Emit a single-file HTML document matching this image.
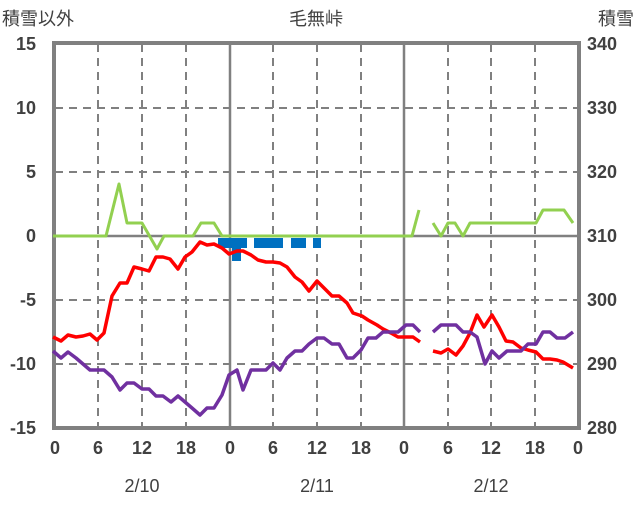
<!DOCTYPE html>
<html><head><meta charset="utf-8"><style>
body{margin:0;background:#fff}
svg text{font-family:"Liberation Sans","Noto Sans CJK JP",sans-serif;fill:#404040}
</style></head><body>
<svg width="636" height="501" xmlns="http://www.w3.org/2000/svg">
<rect width="636" height="501" fill="#fff"/>
<g stroke="#808080" stroke-width="2" stroke-dasharray="8,6" fill="none">
<line x1="55" y1="44" x2="578" y2="44"/><line x1="55" y1="108" x2="578" y2="108"/><line x1="55" y1="172" x2="578" y2="172"/>
<line x1="55" y1="300" x2="578" y2="300"/><line x1="55" y1="364" x2="578" y2="364"/>
<line x1="98" y1="44" x2="98" y2="427"/><line x1="142" y1="44" x2="142" y2="427"/><line x1="186" y1="44" x2="186" y2="427"/>
<line x1="273" y1="44" x2="273" y2="427"/><line x1="317" y1="44" x2="317" y2="427"/><line x1="361" y1="44" x2="361" y2="427"/>
<line x1="448" y1="44" x2="448" y2="427"/><line x1="491" y1="44" x2="491" y2="427"/><line x1="535" y1="44" x2="535" y2="427"/>
</g>
<g stroke="#808080" stroke-width="2.5"><line x1="55" y1="236" x2="578" y2="236"/><line x1="230" y1="44" x2="230" y2="427"/><line x1="404" y1="44" x2="404" y2="427"/></g>
<rect x="54" y="43" width="525" height="385" fill="none" stroke="#808080" stroke-width="4"/>
<g fill="#0070C0">
<rect x="218" y="238" width="29" height="10"/><rect x="254" y="238" width="29" height="10"/><rect x="291" y="238" width="15" height="10"/><rect x="313" y="238" width="8" height="10"/><rect x="232" y="248" width="9" height="13"/>
</g>
<g fill="none" stroke-width="3.5" stroke-linejoin="round">
<polyline stroke="#92D050" stroke-width="3" points="53,236 106,236 119,184 127,223 142,223 157,249 164,236 193,236 201,223 214,223 222,236 412,236 419,210"/>
<polyline stroke="#92D050" stroke-width="3" points="433,223 441,236 448,223 455,223 463,236 470,223 536,223 543,210 564,210 573,223"/>
<polyline stroke="#FF0000" points="53,337 61,341 68,335 76,337 83,336 90,334 97,340 104,333 112,296 120,283 127,283 134,267 142,269 149,271 156,257 163,257 170,259 178,269 185,257 192,252 200,242 207,245 214,244 222,248 229,254 237,251 243,251 251,255 258,260 266,262 273,262 280,263 287,267 295,277 302,282 309,291 317,281 324,288 332,296 339,296 347,303 353,313 362,316 368,320 377,325 383,329 391,333 398,337 406,337 413,337 420,342"/>
<polyline stroke="#FF0000" points="433,351 441,353 448,349 456,355 463,346 470,333 477,315 484,327 492,315 499,327 506,341 513,342 521,348 528,350 536,352 543,359 550,359 557,360 563,362 573,368"/>
<polyline stroke="#7030A0" points="53,351 61,358 68,352 76,358 83,364 90,370 97,370 104,370 112,377 120,390 127,383 134,383 142,389 149,389 156,396 163,396 171,402 178,396 185,402 192,408 200,415 207,408 214,408 222,395 229,375 237,370 243,390 251,370 258,370 266,370 273,363 280,370 287,358 295,351 302,351 309,344 317,338 324,338 332,344 339,344 347,358 353,358 361,350 368,338 376,338 383,332 391,332 398,332 406,325 413,325 420,332"/>
<polyline stroke="#7030A0" points="433,332 441,325 448,325 456,325 463,332 470,332 477,337 485,364 492,351 499,358 507,351 514,351 521,351 528,344 536,344 543,332 550,332 557,338 565,338 573,332"/>
</g>
<g font-size="18" font-weight="bold" text-anchor="end">
<text x="36" y="50">15</text><text x="36" y="114">10</text><text x="36" y="178">5</text><text x="36" y="242">0</text><text x="36" y="306">-5</text><text x="36" y="370">-10</text><text x="36" y="434">-15</text>
</g>
<g font-size="18" font-weight="bold" text-anchor="start">
<text x="587" y="50">340</text><text x="587" y="114">330</text><text x="587" y="178">320</text><text x="587" y="242">310</text><text x="587" y="306">300</text><text x="587" y="370">290</text><text x="587" y="434">280</text>
</g>
<g font-size="18" font-weight="bold" text-anchor="middle">
<text x="55" y="454">0</text><text x="98" y="454">6</text><text x="142" y="454">12</text><text x="186" y="454">18</text><text x="230" y="454">0</text><text x="273" y="454">6</text><text x="317" y="454">12</text><text x="361" y="454">18</text><text x="404" y="454">0</text><text x="448" y="454">6</text><text x="491" y="454">12</text><text x="535" y="454">18</text><text x="578" y="454">0</text>
</g>
<g font-size="18" text-anchor="middle">
<text x="142" y="492">2/10</text><text x="317" y="492">2/11</text><text x="491" y="492">2/12</text>
<text x="316" y="25">毛無峠</text>
</g>
<text x="2" y="25" font-size="18">積雪以外</text>
<text x="634" y="25" font-size="18" text-anchor="end">積雪</text>
</svg>
</body></html>
